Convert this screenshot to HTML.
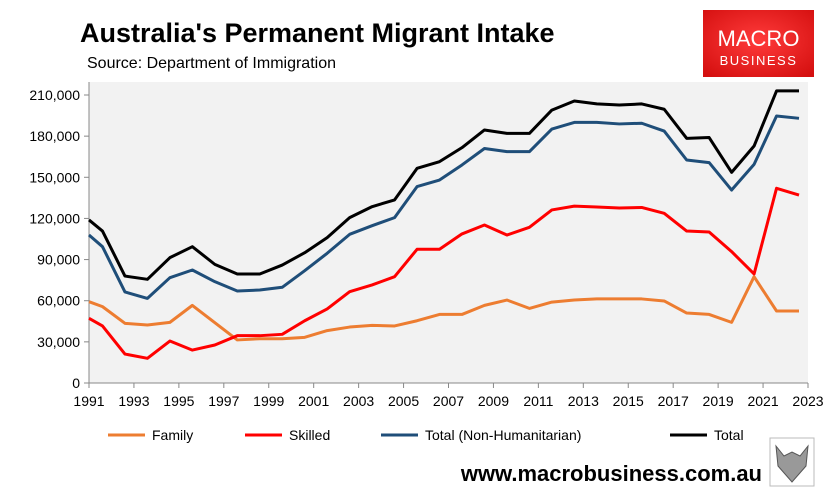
<!DOCTYPE html>
<html><head><meta charset="utf-8"><style>
body{margin:0;width:830px;height:493px;background:#fff;overflow:hidden;font-family:"Liberation Sans",sans-serif}
</style></head><body>
<svg width="830" height="493" style="position:absolute;left:0;top:0">
<text x="80" y="42" font-size="27" font-weight="bold" fill="#000">Australia's Permanent Migrant Intake</text>
<text x="87" y="68" font-size="16" fill="#000">Source: Department of Immigration</text>
<g>
<defs><radialGradient id="lg" cx="50%" cy="45%" r="70%"><stop offset="0" stop-color="#ff3b3b"/><stop offset="1" stop-color="#d40f0f"/></radialGradient></defs>
<rect x="703" y="10" width="111" height="67" fill="url(#lg)"/>
<text x="758.5" y="46" font-size="22" fill="#fff" text-anchor="middle" font-weight="300">MACRO</text>
<text x="758.5" y="65" font-size="13" fill="#fff" text-anchor="middle" letter-spacing="1.5">BUSINESS</text>
</g>
<rect x="89" y="82" width="719" height="301" fill="#f2f2f2"/>
<g id="axes"></g>
<g id="series"></g>
<g id="legend"></g>
<text x="762" y="481" font-size="22" font-weight="bold" text-anchor="end" fill="#000">www.macrobusiness.com.au</text>
<g>
<rect x="770" y="438" width="44" height="48" fill="#fff" stroke="#bbb"/>
<path d="M776 446 L784 456 L792 452 L800 456 L808 446 L806 466 L792 482 L778 466 Z" fill="#999" stroke="#555" stroke-width="1"/>
</g>
</svg>
<script>
const years=[1991,1991.6,1992.6,1993.6,1994.6,1995.6,1996.6,1997.6,1998.6,1999.6,2000.6,2001.6,2002.6,2003.6,2004.6,2005.6,2006.6,2007.6,2008.6,2009.6,2010.6,2011.6,2012.6,2013.6,2014.6,2015.6,2016.6,2017.6,2018.6,2019.6,2020.6,2021.6,2022.6];
const family=[59300,55700,43500,42300,44200,56600,44000,31400,32300,32300,33300,38200,40800,42000,41600,45400,50000,50000,56600,60500,54400,59000,60500,61300,61300,61300,59800,51000,50000,44200,77500,52500,52500];
const skilled=[47200,41600,21100,18000,30600,24000,27700,34500,34500,35500,45400,54000,66600,71500,77500,97500,97500,108700,115200,107900,113500,126200,129000,128300,127600,128000,123700,110800,110100,95800,79500,142000,137000];
const nonHum=[107900,99400,66400,61700,76800,82400,73900,67100,67800,69800,81900,94600,108400,114700,120600,143200,148000,159000,171000,168700,168700,185200,190000,190000,188900,189400,183700,162600,160700,140700,159400,194700,193000];
const total=[118900,110800,78000,75600,91400,99400,86500,79500,79500,86000,95000,106000,120600,128600,133500,156500,161400,171600,184500,182000,182000,199000,205600,203500,202700,203500,199600,178400,179000,153600,172800,213000,213000];
const yTicks=[0,30000,60000,90000,120000,150000,180000,210000];
const xTicks=[1991,1993,1995,1997,1999,2001,2003,2005,2007,2009,2011,2013,2015,2017,2019,2021,2023];
const seriesNames=["Family","Skilled","Total (Non-Humanitarian)","Total"];
const seriesColors=["#ed7d31","#ff0000","#1f4e79","#000000"];
const NS="http://www.w3.org/2000/svg";
const X=v=>89+(v-1991)*(719/32);
const Y=v=>383-v*(288/210000);
function mk(t,a,p){const e=document.createElementNS(NS,t);for(const k in a)e.setAttribute(k,a[k]);p.appendChild(e);return e;}
const ax=document.getElementById('axes');
const yl=mk('line',{x1:89,y1:82,x2:89,y2:383,stroke:'#888','stroke-width':1},ax);


const xl=mk('line',{x1:89,y1:383,x2:808,y2:383,stroke:'#888','stroke-width':1},ax);


yTicks.forEach(v=>{
 mk('line',{x1:84,y1:Y(v),x2:89,y2:Y(v),stroke:'#888'},ax);
 const t=mk('text',{x:80,y:Y(v)+5,'font-size':14,'text-anchor':'end',fill:'#000'},ax);
 t.textContent=v.toLocaleString('en-US');
 
 
});
xTicks.forEach(v=>{
 mk('line',{x1:X(v),y1:383,x2:X(v),y2:388,stroke:'#888'},ax);
 const t=mk('text',{x:X(v),y:406,'font-size':14,'text-anchor':'middle',fill:'#000'},ax);
 t.textContent=v;
 
 
});
const sg=document.getElementById('series');
[family,skilled,nonHum,total].forEach((d,i)=>{
 const p=mk('polyline',{points:d.map((v,j)=>X(years[j])+','+Y(v)).join(' '),fill:'none',stroke:seriesColors[i],'stroke-width':3,'stroke-linejoin':'round'},sg);
 
 
});
const lg=document.getElementById('legend');
const lx=[108,245,381,670];
seriesNames.forEach((n,i)=>{
 const g=mk('g',{},lg);
 
 
 mk('line',{x1:lx[i],y1:435,x2:lx[i]+37,y2:435,stroke:seriesColors[i],'stroke-width':3},g);
 const t=mk('text',{x:lx[i]+44,y:440,'font-size':14,fill:'#000'},g);
 t.textContent=n;
});
</script>
</body></html>
